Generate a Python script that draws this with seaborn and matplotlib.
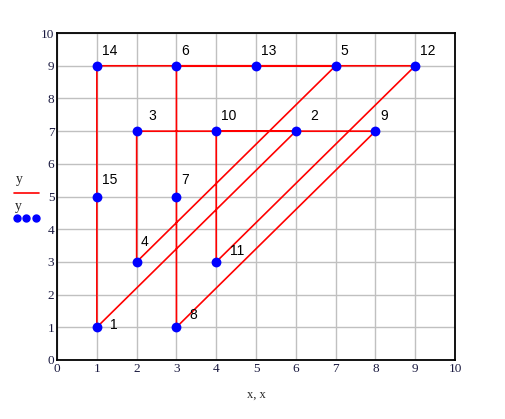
"""Closed path through 15 numbered points, drawn in a Mathcad-like style."""

import matplotlib
matplotlib.use("Agg")
import matplotlib.pyplot as plt
from matplotlib.lines import Line2D
import pandas as pd
import seaborn as sns

# point coordinates, in visiting order 1..15
X = [1, 6, 2, 2, 7, 3, 3, 3, 8, 4, 4, 9, 5, 1, 1]
Y = [1, 7, 7, 3, 9, 9, 5, 1, 7, 7, 3, 9, 9, 9, 5]
LABELS = [str(i) for i in range(1, 16)]

TICKS = list(range(0, 11))

RED = "#ff0000"
BLUE = "#0000ff"
GRID = "#c0c0c0"

# label offsets in pixels (right, up); default is (5, 8)
LABEL_OFFSETS = {
    "1": (13, -5),
    "2": (14, 8),
    "3": (12, 8),
    "4": (4, 13),
    "7": (5, 10),
    "8": (13, 5),
    "11": (14, 4),
    "15": (5, 10),
}


def main() -> None:
    sns.set_theme(style="white")
    plt.rcParams["font.family"] = ["Liberation Sans", "DejaVu Sans"]

    points = pd.DataFrame({"x": X, "y": Y, "label": LABELS})
    # close the loop back to point 1
    path = pd.concat([points, points.iloc[[0]]], ignore_index=True)

    fig = plt.figure(figsize=(5.05, 4.19), dpi=100)
    ax = fig.add_axes([0.113, 0.141, 0.788, 0.780])

    sns.lineplot(data=path, x="x", y="y", sort=False, estimator=None,
                 color=RED, linewidth=1.2, ax=ax)
    sns.scatterplot(data=points, x="x", y="y", color=BLUE, s=50,
                    edgecolor=BLUE, linewidth=0, zorder=5, ax=ax)

    for xv, yv, lab in zip(points["x"], points["y"], points["label"]):
        dx, dy = LABEL_OFFSETS.get(lab, (5, 8))
        ax.annotate(lab, (xv, yv), xytext=(dx * 0.72, dy * 0.72),
                    textcoords="offset points", fontsize=10,
                    color="#000000", ha="left", va="bottom")

    ax.set_xlim(0, 10)
    ax.set_ylim(0, 10)
    ax.set_xticks(TICKS)
    ax.set_yticks(TICKS)
    ax.set_xticklabels([str(t) for t in TICKS], family="Liberation Serif",
                       fontsize=9.5, color="#1a1a40")
    ax.set_yticklabels([str(t) for t in TICKS], family="Liberation Serif",
                       fontsize=9.5, color="#1a1a40")
    ax.tick_params(length=0, pad=2)
    ax.grid(True, color=GRID, linewidth=1)
    ax.set_axisbelow(True)
    for side in ax.spines.values():
        side.set_color("black")
        side.set_linewidth(1.3)

    ax.set_xlabel("x, x", family="Liberation Serif", fontsize=9, labelpad=10)
    ax.set_ylabel("")

    # Mathcad-style y axis legend
    fig.text(0.038, 0.564, "y", family="Liberation Serif", fontsize=10, ha="center")
    fig.add_artist(Line2D([0.028, 0.077], [0.539, 0.539], color=RED, linewidth=1.2))
    fig.text(0.037, 0.500, "y", family="Liberation Serif", fontsize=10, ha="center")
    fig.add_artist(Line2D([0.033, 0.052, 0.071], [0.480, 0.480, 0.480], color=BLUE,
                          linestyle="none", marker="o", markersize=5))

    fig.savefig("out.png", dpi=100)
    plt.close(fig)


if __name__ == "__main__":
    main()
